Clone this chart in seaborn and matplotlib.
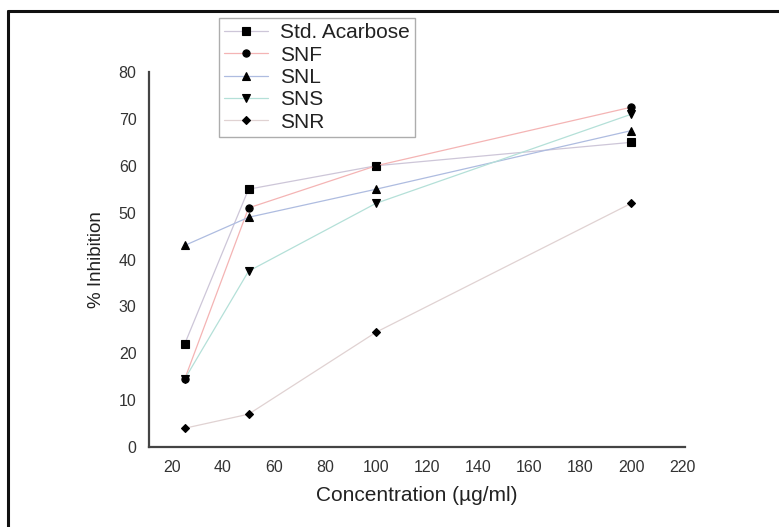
import matplotlib
matplotlib.use("Agg")
import matplotlib.pyplot as plt
import seaborn as sns
import pandas as pd
from matplotlib.lines import Line2D

concentration = [25, 50, 100, 200]
std_acarbose = [22, 55, 60, 65]
snf = [14.5, 51, 60, 72.5]
snl = [43, 49, 55, 67.5]
sns_vals = [14.5, 37.5, 52, 71]
snr = [4, 7, 24.5, 52]

series_names = ["Std. Acarbose", "SNF", "SNL", "SNS", "SNR"]
series_values = [std_acarbose, snf, snl, sns_vals, snr]
markers = ["s", "o", "^", "v", "D"]
line_colors = ["#cdc6d8", "#f4b4b4", "#aebce0", "#b4e0d8", "#e0d2d2"]
xticks = [20, 40, 60, 80, 100, 120, 140, 160, 180, 200, 220]
yticks = [0, 10, 20, 30, 40, 50, 60, 70, 80]

sns.set_style("white")
plt.rcParams["font.family"] = ["Liberation Sans", "DejaVu Sans"]

rows = []
for name, vals in zip(series_names, series_values):
    for c, v in zip(concentration, vals):
        rows.append({"Concentration": c, "Inhibition": v, "Series": name})
df = pd.DataFrame(rows)

fig = plt.figure(figsize=(7.79, 5.27), dpi=100)
ax = fig.add_axes([149/779, 1-447/527, (685-149)/779, (447-72)/527])

for name, mk, col in zip(series_names, markers, line_colors):
    sub = df[df["Series"] == name]
    ms = 4.3 if mk == "D" else 5.2
    sns.lineplot(data=sub, x="Concentration", y="Inhibition", ax=ax, color=col,
                 marker=mk, markersize=ms, markerfacecolor="black",
                 markeredgecolor="black", markeredgewidth=0.8,
                 linewidth=0.9, label=name, errorbar=None)

ax.set_xlim(11, 221)
ax.set_ylim(0, 80)
ax.set_xticks(xticks)
ax.set_yticks(yticks)
ax.tick_params(length=0, labelsize=11.5, colors="#333333", pad=9)
for s in ["top", "right"]:
    ax.spines[s].set_visible(False)
for s in ["left", "bottom"]:
    ax.spines[s].set_color("#444444")
    ax.spines[s].set_linewidth(1.6)
ax.set_xlabel("Concentration (µg/ml)", fontsize=15, color="#222222", labelpad=8)
ax.set_ylabel("% Inhibition", fontsize=13.5, color="#222222", labelpad=10)

handles, labels = ax.get_legend_handles_labels()
leg = ax.legend(handles, labels, loc="upper left", bbox_to_anchor=(219/779, 1-18/527),
                bbox_transform=fig.transFigure, frameon=True, fancybox=False,
                fontsize=15, labelspacing=0.16, handlelength=2.1, handletextpad=0.6,
                borderpad=0.25, borderaxespad=0)
leg.get_frame().set_edgecolor("#999999")
leg.get_frame().set_linewidth(1.0)
for t in leg.get_texts():
    t.set_color("#222222")

fig.add_artist(Line2D([8/779, 8/779], [0, 1-11/527], transform=fig.transFigure,
                      color="#111111", linewidth=2.2))
fig.add_artist(Line2D([8/779, 1], [1-11/527, 1-11/527], transform=fig.transFigure,
                      color="#111111", linewidth=2.2))

fig.savefig("out.png", dpi=100)
